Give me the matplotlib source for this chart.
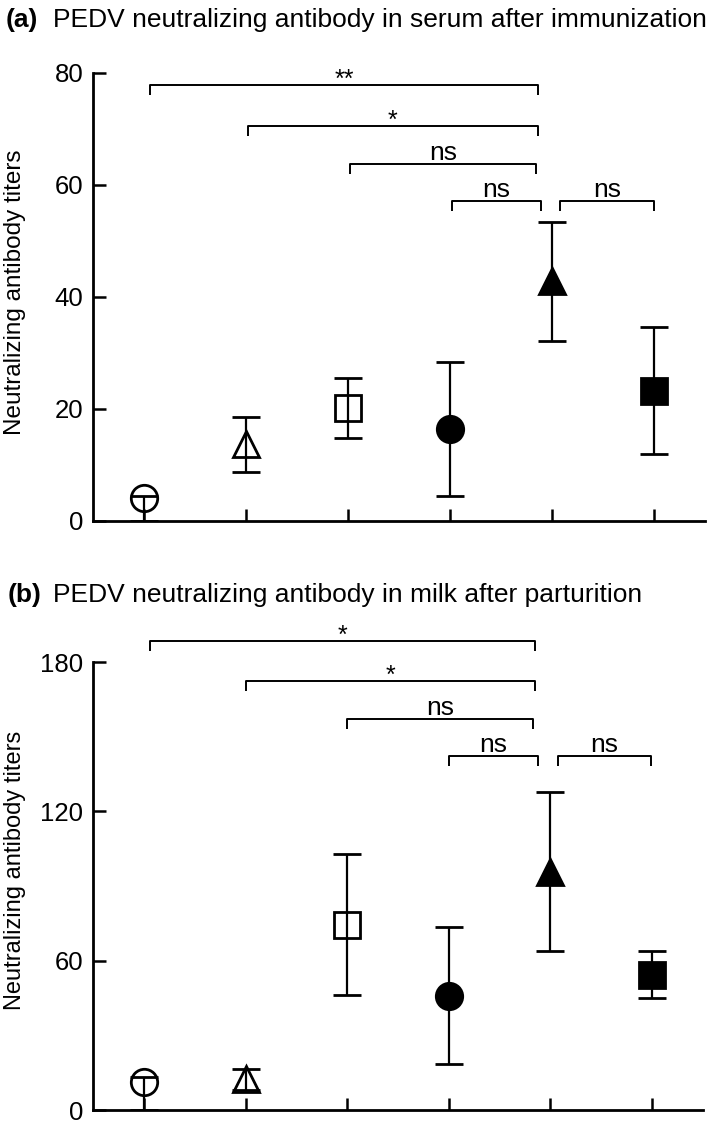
import matplotlib
matplotlib.use("Agg")
import matplotlib.pyplot as plt

plt.rcParams['font.family'] = ['Liberation Sans', 'DejaVu Sans']

groups = [1, 2, 3, 4, 5, 6]
markers = ['o', '^', 's', 'o', '^', 's']
filled = [False, False, False, True, True, True]

# serum after immunization: mean, lower and upper end of error bar
serum_mean = [4.1, 13.7, 20.1, 16.5, 42.8, 23.3]
serum_lo = [0.0, 8.7, 14.8, 4.5, 32.1, 11.9]
serum_hi = [4.5, 18.6, 25.5, 28.4, 53.4, 34.7]

# milk after parturition
milk_mean = [11.1, 12.3, 74.5, 46.0, 95.8, 54.2]
milk_lo = [0.0, 8.0, 46.2, 18.3, 64.0, 44.9]
milk_hi = [13.3, 16.3, 102.8, 73.7, 127.9, 63.9]

# significance brackets: (x left, x right, y, label)
serum_sig = [(1.06, 4.86, 77.9, '**'), (2.02, 4.86, 70.6, '*'),
             (3.02, 4.84, 63.8, 'ns'), (4.02, 4.89, 57.1, 'ns'),
             (5.08, 6.0, 57.1, 'ns')]
milk_sig = [(1.06, 4.85, 188.6, '*'), (2.0, 4.85, 172.5, '*'),
            (3.0, 4.83, 157.1, 'ns'), (4.0, 4.88, 142.3, 'ns'),
            (5.07, 5.99, 142.3, 'ns')]

fig = plt.figure(figsize=(7.09, 11.24), dpi=100)


def draw_panel(ax, mean, lo, hi, sig, ymax, step):
    for i in range(len(groups)):
        yerr = [[mean[i] - lo[i]], [hi[i] - mean[i]]]
        face = 'black' if filled[i] else 'none'
        ax.errorbar([groups[i]], [mean[i]], yerr=yerr, fmt=markers[i],
                    ms=19 if markers[i] != 's' else 18.5,
                    mfc=face, mec='black', mew=2.0, color='black',
                    ecolor='black', elinewidth=1.6, capsize=10, capthick=1.6,
                    zorder=3)
    ax.set_xlim(0.5, 6.5)
    ax.set_ylim(0, ymax)
    ax.set_xticks(groups)
    ax.set_xticklabels([])
    ax.set_yticks(range(0, ymax + 1, step))
    for s in ['top', 'right']:
        ax.spines[s].set_visible(False)
    for s in ['left', 'bottom']:
        ax.spines[s].set_linewidth(2.0)
    ax.tick_params(direction='in', length=9, width=1.8, labelsize=18.5, pad=7)

    drop = 10 * ymax / 448.0
    for x0, x1, y, lab in sig:
        ax.plot([x0, x0, x1, x1], [y - drop, y, y, y - drop], color='black',
                lw=1.4, clip_on=False, solid_capstyle='butt')
        xm = (x0 + x1) / 2
        if lab == 'ns':
            ax.annotate(lab, (xm, y), xytext=(0, 3), textcoords='offset points',
                        ha='center', va='baseline', fontsize=19, annotation_clip=False)
        else:
            ax.annotate(lab, (xm, y), xytext=(0, -1.5), textcoords='offset points',
                        ha='center', va='baseline', fontsize=18, annotation_clip=False)


axa = fig.add_axes([93 / 709, 1 - 521 / 1124, 612 / 709, 448 / 1124])
draw_panel(axa, serum_mean, serum_lo, serum_hi, serum_sig, 80, 20)

axb = fig.add_axes([93 / 709, 1 - 1110 / 1124, 610 / 709, 448 / 1124])
draw_panel(axb, milk_mean, milk_lo, milk_hi, milk_sig, 180, 60)

fig.text(15 / 709, 1 - 292 / 1124, 'Neutralizing antibody titers', fontsize=17.5,
         rotation=90, ha='center', va='center')
fig.text(15 / 709, 1 - 870 / 1124, 'Neutralizing antibody titers', fontsize=17,
         rotation=90, ha='center', va='center')

fig.text(6 / 709, 1 - 27 / 1124, '(a)', fontsize=19, fontweight='bold', va='baseline')
fig.text(53 / 709, 1 - 27 / 1124, 'PEDV neutralizing antibody in serum after immunization',
         fontsize=19, va='baseline')
fig.text(8 / 709, 1 - 602 / 1124, '(b)', fontsize=19, fontweight='bold', va='baseline')
fig.text(53 / 709, 1 - 602 / 1124, 'PEDV neutralizing antibody in milk after parturition',
         fontsize=19, va='baseline')

fig.savefig('out.png', dpi=100)
